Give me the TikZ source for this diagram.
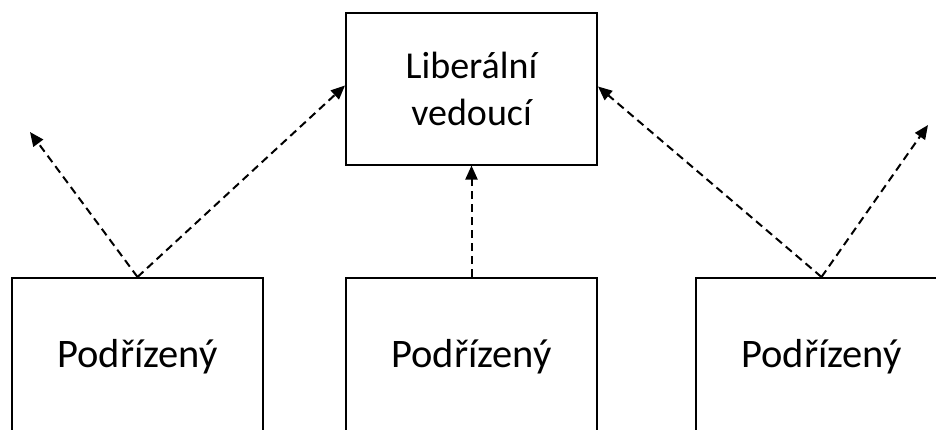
\documentclass[tikz,border=0pt]{standalone}
\usepackage{fontspec}
\setmainfont{Carlito}
\usetikzlibrary{arrows.meta}
\begin{document}
\begin{tikzpicture}[x=1pt,y=-1pt,
  box/.style={draw=black,line width=2pt,minimum width=251pt,minimum height=152pt,inner sep=0pt,align=center,
    font=\fontsize{40.5}{44}\selectfont},
  link/.style={line width=2pt,dash pattern=on 8pt off 5pt,-{Triangle[length=14pt,width=12pt]}}]
\useasboundingbox (0,0) rectangle (936,429);
\clip (0,0) rectangle (936,429);
\node[box,font=\fontsize{38}{47}\selectfont] (lead) at (471.5,88.5) {Liberální\\vedoucí};
\node[box,minimum height=158pt] (p1) at (137.5,357) {Podřízený};
\node[box,minimum height=158pt] (p2) at (471.5,357) {Podřízený};
\node[box,minimum height=158pt] (p3) at (821.5,357) {Podřízený};
\coordinate (fl) at (30,132);
\coordinate (fr) at (928,125);
\draw[link] (p1.north) -- (fl);
\draw[link] (p1.north) -- ([yshift=3pt]lead.west);
\draw[link] (p2.north) -- (lead.south);
\draw[link] (p3.north) -- ([yshift=2pt]lead.east);
\draw[link] (p3.north) -- (fr);
\end{tikzpicture}
\end{document}
